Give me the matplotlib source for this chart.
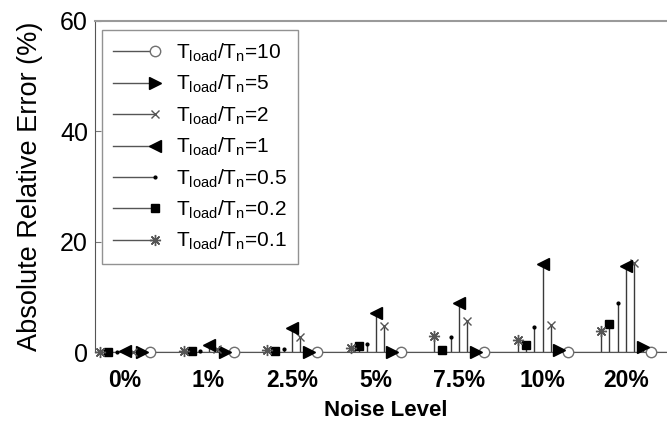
import matplotlib
matplotlib.use("Agg")
import matplotlib.pyplot as plt
import numpy as np
from matplotlib.lines import Line2D
from matplotlib.legend_handler import HandlerBase

plt.rcParams['font.family'] = ['Liberation Sans', 'DejaVu Sans']
plt.rcParams['mathtext.fontset'] = 'custom'
plt.rcParams['mathtext.rm'] = 'Liberation Sans'
plt.rcParams['mathtext.it'] = 'Liberation Sans'

# Noise levels on the x axis
noise_levels = ['0%', '1%', '2.5%', '5%', '7.5%', '10%', '20%']

# Load-to-nominal ratios (legend order)
ratios = ['10', '5', '2', '1', '0.5', '0.2', '0.1']

# Absolute relative error (%) for each ratio, one value per noise level
err_r10 = [0.0, 0.0, 0.0, 0.0, 0.0, 0.0, 0.0]
err_r5 = [0.0, 0.0, 0.0, 0.0, 0.0, 0.3, 0.9]
err_r2 = [0.0, 0.5, 2.7, 4.7, 5.6, 4.9, 16.2]
err_r1 = [0.2, 1.3, 4.4, 7.1, 8.9, 16.0, 15.5]
err_r05 = [0.0, 0.1, 0.6, 1.5, 2.7, 4.5, 8.9]
err_r02 = [0.0, 0.1, 0.2, 1.0, 0.4, 1.3, 5.1]
err_r01 = [0.0, 0.1, 0.3, 0.7, 2.9, 2.2, 3.8]

series = [err_r10, err_r5, err_r2, err_r1, err_r05, err_r02, err_r01]

# marker styles: (marker, size, face, edge, offset within group)
styles = [
    ('o', 7.5, 'white', '#707070', 0.3),
    ('>', 9, 'black', 'black', 0.2),
    ('x', 6, 'none', '#555555', 0.1),
    ('<', 9, 'black', 'black', 0.0),
    ('.', 4, 'black', 'black', -0.1),
    ('s', 6, 'black', 'black', -0.2),
    ((8, 2, 0), 8, 'none', '#555555', -0.3),
]

W, H = 667, 422
fig = plt.figure(figsize=(W / 100, H / 100), dpi=100)

x0, x1 = 0.64, 7.6
px_per_unit = 83.5
left_px, bottom_px, top_px = 95, 352, 21
ax = fig.add_axes([left_px / W, (H - bottom_px) / H,
                   (x1 - x0) * px_per_unit / W, (bottom_px - top_px) / H])

xpos = np.arange(1, len(noise_levels) + 1)
stem_color = '#3a3a3a'
for vals, (mk, ms, fc, ec, off) in zip(series, styles):
    xs = xpos + off
    ax.vlines(xs, 0, vals, colors=stem_color, lw=1.0, zorder=2, clip_on=False)
    ax.plot(xs, vals, linestyle='none', marker=mk, markersize=ms,
            markerfacecolor=fc, markeredgecolor=ec, markeredgewidth=1.0,
            zorder=3, clip_on=False)

ax.axhline(0, color='#555555', lw=1.0, zorder=1)

ax.set_xlim(x0, x1)
ax.set_ylim(0, 60)
ax.set_yticks([0, 20, 40, 60])
ax.set_xticks(xpos)
ax.set_xticklabels(noise_levels, fontsize=16.5, fontweight='bold')
ax.tick_params(axis='x', length=0, pad=12)
ax.tick_params(axis='y', direction='in', length=4, labelsize=18, pad=5,
               color='#777777')
ax.set_xlabel('Noise Level', fontsize=16, fontweight='bold', labelpad=6)
ax.set_ylabel('Absolute Relative Error (%)', fontsize=19.5, labelpad=12)

for side in ['top', 'right']:
    ax.spines[side].set_color('#9a9a9a')
    ax.spines[side].set_linewidth(1.5)
ax.spines['left'].set_color('#555555')
ax.spines['bottom'].set_color('#555555')


class StemKey(HandlerBase):
    def create_artists(self, legend, orig, xdescent, ydescent, width, height,
                       fontsize, trans):
        y = height / 2 - ydescent
        line = Line2D([-xdescent, width - xdescent], [y, y],
                      color='#555555', lw=1.0)
        mark = Line2D([width - xdescent], [y], linestyle='none',
                      marker=orig.get_marker(),
                      markersize=orig.get_markersize(),
                      markerfacecolor=orig.get_markerfacecolor(),
                      markeredgecolor=orig.get_markeredgecolor(),
                      markeredgewidth=1.0)
        line.set_transform(trans)
        mark.set_transform(trans)
        return [line, mark]


handles = []
labels = []
for r, (mk, ms, fc, ec, off) in zip(ratios, styles):
    handles.append(Line2D([], [], marker=mk, markersize=ms,
                          markerfacecolor=fc, markeredgecolor=ec))
    labels.append(r'T$_{\mathrm{load}}$/T$_{\mathrm{n}}$=' + r)

leg = ax.legend(handles, labels, handler_map={Line2D: StemKey()},
                loc='upper left', bbox_to_anchor=(0.012, 0.973),
                fontsize=15, handlelength=2.0, handletextpad=1.0,
                labelspacing=0.44, borderpad=0.55, borderaxespad=0.0,
                frameon=True, fancybox=False)
leg.get_frame().set_edgecolor('#777777')
leg.get_frame().set_linewidth(1.0)

fig.savefig('out.png', dpi=100)
